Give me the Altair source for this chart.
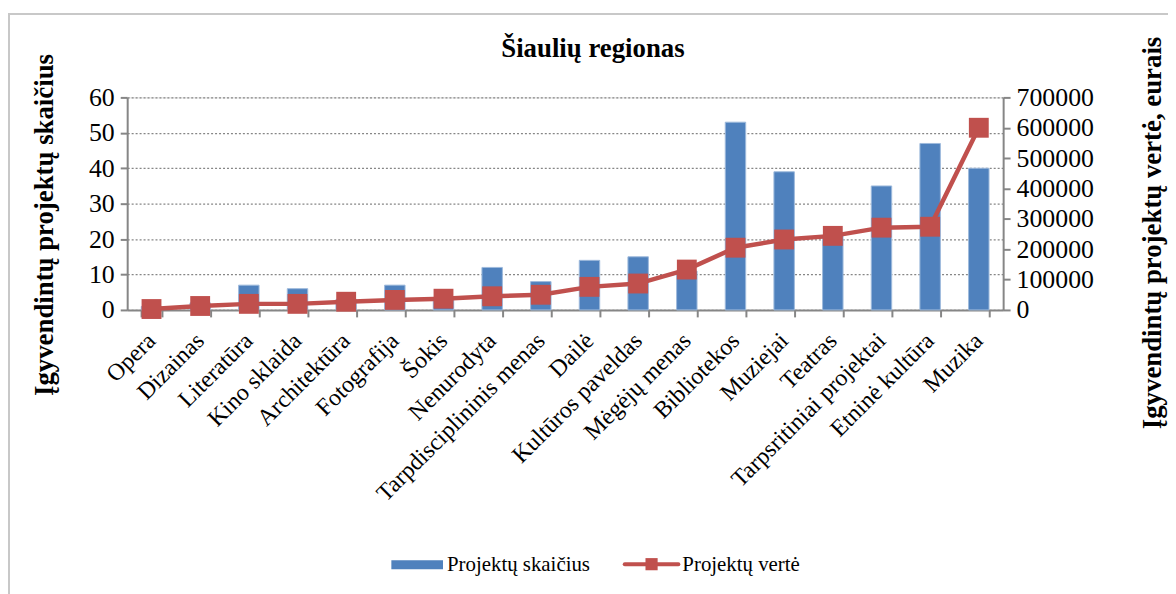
import altair as alt
import pandas as pd

categories = ["Opera", "Dizainas", "Literatūra", "Kino sklaida", "Architektūra",
              "Fotografija", "Šokis", "Nenurodyta", "Tarpdisciplininis menas", "Dailė",
              "Kultūros paveldas", "Mėgėjų menas", "Bibliotekos", "Muziejai", "Teatras",
              "Tarpsritiniai projektai", "Etninė kultūra", "Muzika"]
project_counts = [1, 2, 7, 6, 3, 7, 3, 12, 8, 14, 15, 11, 53, 39, 21, 35, 47, 40]
project_values = [3000, 13000, 20000, 20000, 27000, 33000, 37000, 45000, 50000, 76000,
                  87000, 133000, 205000, 232000, 244000, 271000, 274000, 600000]
left_ticks = [0, 10, 20, 30, 40, 50, 60]
right_ticks = [0, 100000, 200000, 300000, 400000, 500000, 600000, 700000]
chart_title = "Šiaulių regionas"

df = pd.DataFrame({"cat": categories, "count": project_counts, "value": project_values})

FONT = "Liberation Serif"
BLUE = "#4F81BD"
RED = "#C0504D"
GRAY = "#868686"

W, H = 882, 214

base = alt.Chart(df)

xenc = alt.X("cat:N", sort=categories, title=None,
             scale=alt.Scale(paddingInner=0.58, paddingOuter=0.29),
             axis=alt.Axis(labelAngle=-45, labelAlign="right", labelBaseline="middle",
                           labelFontSize=24, labelFont=FONT, labelColor="#000000",
                           labelLimit=0,
                           tickBand="extent", tickSize=7, tickColor=GRAY, tickWidth=2,
                           domainColor=GRAY, domainWidth=2, labelPadding=20,
                           grid=False, labelOverlap=False))

bars = base.mark_bar(color=BLUE, stroke="#9DB9DC", strokeWidth=1).encode(
    x=xenc,
    y=alt.Y("count:Q", scale=alt.Scale(domain=[0, 60]),
            axis=alt.Axis(values=left_ticks, orient="left", title="Įgyvendintų projektų skaičius",
                          titleFont=FONT, titleFontSize=27, titleFontWeight="bold",
                          titleColor="#000000", titleAngle=270, titleX=-83, titleY=128,
                          titleAlign="center", titleBaseline="middle",
                          labelFont=FONT, labelFontSize=26, labelColor="#000000",
                          labelPadding=6,
                          tickSize=7, tickColor=GRAY, tickWidth=2,
                          domainColor=GRAY, domainWidth=2,
                          grid=True, gridColor=GRAY, gridDash=[2, 2], gridWidth=1.3)),
)

line = base.mark_line(color=RED, strokeWidth=4.5,
                      point=alt.OverlayMarkDef(shape="square", size=400, filled=True,
                                               color=RED, opacity=1)).encode(
    x=alt.X("cat:N", sort=categories),
    y=alt.Y("value:Q", scale=alt.Scale(domain=[0, 700000]),
            axis=alt.Axis(values=right_ticks, orient="right", format="d",
                          title="Įgyvendintų projektų vertė, eurais",
                          titleFont=FONT, titleFontSize=27, titleFontWeight="bold",
                          titleColor="#000000", titleAngle=270, titleX=150, titleY=136,
                          titleAlign="center", titleBaseline="middle",
                          labelFont=FONT, labelFontSize=26, labelColor="#000000",
                          labelPadding=6,
                          tickSize=7, tickColor=GRAY, tickWidth=2,
                          domainColor=GRAY, domainWidth=2, grid=False)),
)

one = alt.Data(values=[{"k": 0}])

frame = alt.Chart(one).mark_rect(filled=False, stroke="#C8C8C8", strokeWidth=2).encode(
    x=alt.value(-119), x2=alt.value(1100), y=alt.value(-84), y2=alt.value(560))

title_mark = alt.Chart(one).mark_text(align="center", baseline="alphabetic", font=FONT,
                                      fontSize=27, fontWeight="bold", color="#000000").encode(
    x=alt.value(469), y=alt.value(-41), text=alt.value(chart_title))

leg_bar = alt.Chart(one).mark_rect(color=BLUE).encode(
    x=alt.value(266), x2=alt.value(318), y=alt.value(466), y2=alt.value(475))
leg_bar_txt = alt.Chart(one).mark_text(align="left", baseline="middle", font=FONT,
                                       fontSize=21, color="#000000").encode(
    x=alt.value(322), y=alt.value(471), text=alt.value("Projektų skaičius"))
leg_line = alt.Chart(one).mark_rule(color=RED, strokeWidth=4, strokeCap="round").encode(
    x=alt.value(501), x2=alt.value(555), y=alt.value(470))
leg_sq = alt.Chart(one).mark_point(shape="square", size=150, filled=True, color=RED,
                                   opacity=1).encode(x=alt.value(528), y=alt.value(470))
leg_line_txt = alt.Chart(one).mark_text(align="left", baseline="middle", font=FONT,
                                        fontSize=21, color="#000000").encode(
    x=alt.value(559), y=alt.value(471), text=alt.value("Projektų vertė"))

chart = alt.layer(frame, title_mark, bars, line, leg_bar, leg_bar_txt, leg_line, leg_sq,
                  leg_line_txt).resolve_scale(
    y="independent"
).properties(
    width=W, height=H,
    autosize=alt.AutoSizeParams(type="none"),
    padding={"left": 120, "top": 88, "right": 166, "bottom": 284},
).configure_view(stroke=None).configure(background="#FFFFFF")

chart.save("out.html", embed_options={"renderer": "svg", "actions": False})
